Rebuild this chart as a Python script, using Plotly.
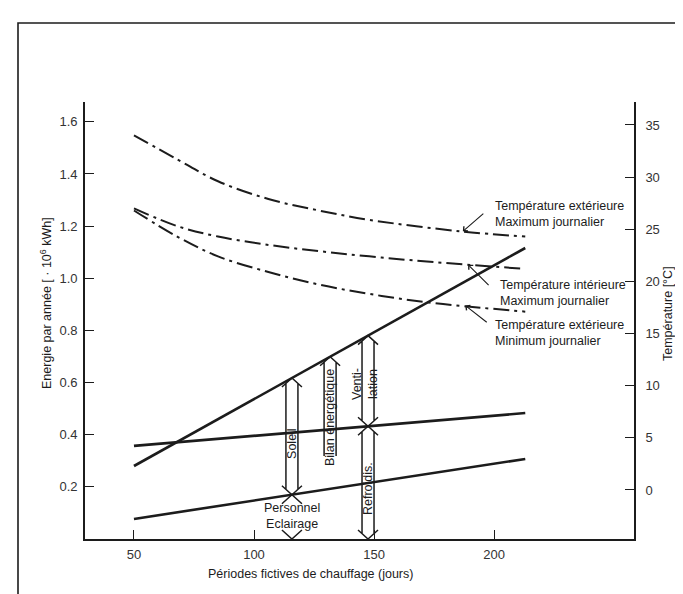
import numpy as np
import plotly.graph_objects as go

# ---------------- data ----------------
line_days = [50, 213]
e_total = [0.28, 1.116]      # upper solid line (energy)
e_middle = [0.357, 0.483]    # middle solid line
e_lower = [0.077, 0.307]     # lower solid line

t_ext_max_days = [50, 68, 85, 106, 127, 148, 186, 213]
t_ext_max = [34.0, 31.7, 29.6, 27.9, 26.8, 25.9, 24.8, 24.3]
t_int_max_days = [50, 68, 85, 106, 127, 148, 172, 213]
t_int_max = [27.0, 25.3, 24.3, 23.5, 22.9, 22.4, 21.9, 21.2]
t_ext_min_days = [50, 68, 85, 106, 127, 148, 172, 213]
t_ext_min = [26.8, 24.3, 22.4, 20.9, 19.7, 18.8, 18.0, 17.1]

x_ticks = [50, 100, 150, 200]
e_ticks = [0.2, 0.4, 0.6, 0.8, 1.0, 1.2, 1.4, 1.6]
t_ticks = [0, 5, 10, 15, 20, 25, 30, 35]

soleil_day = 115.8
bilan_day = 131.7
vent_day = 147.5
bilan_bottom_e = 0.318

X_RANGE = [29.6, 258.3]
E_RANGE = [0, 1.676]
T_RANGE = [-4.70, 37.2]

W, H = 683, 594
ML, MR, MT, MB = 77, 57, 94, 63
PW, PH = W - ML - MR, H - MT - MB
DX = (X_RANGE[1] - X_RANGE[0]) / PW   # days per px
DY = (E_RANGE[1] - E_RANGE[0]) / PH   # energy per px

INK = "#1c1c1c"
FN = "Liberation Sans, Arial, sans-serif"
FT = "Liberation Sans, Arial, sans-serif"
FS = 12.5

fig = go.Figure()

for ys in (e_total, e_middle, e_lower):
    fig.add_trace(go.Scatter(x=line_days, y=ys, mode="lines",
                             line=dict(color=INK, width=2.6),
                             showlegend=False, hoverinfo="skip"))

for xs, ys in ((t_ext_max_days, t_ext_max), (t_int_max_days, t_int_max),
               (t_ext_min_days, t_ext_min)):
    fig.add_trace(go.Scatter(x=xs, y=ys, mode="lines", yaxis="y2",
                             line=dict(color=INK, width=2.0, shape="spline",
                                       smoothing=1.0, dash="16px,5px,3px,5px"),
                             showlegend=False, hoverinfo="skip"))


def interp(day, ys):
    return float(np.interp(day, line_days, ys))


def p(x, y):
    return f"{x:.4f},{y:.5f}"


def head(cx, tip, up=True, half=10, hh=9):
    s = 1 if up else -1
    yb = tip - s * hh * DY
    return (f"M{p(cx - half * DX, yb)} L{p(cx, tip)} L{p(cx + half * DX, yb)} ")


def shaft(cx, ytop, ybot, half=6):
    return (f"M{p(cx - half * DX, ytop)} L{p(cx - half * DX, ybot)} "
            f"M{p(cx + half * DX, ytop)} L{p(cx + half * DX, ybot)} ")


paths = []
# Soleil: upper line -> lower line
yt = interp(soleil_day, e_total)
yb = interp(soleil_day, e_lower)
paths.append(head(soleil_day, yt, True) + head(soleil_day, yb, False)
             + shaft(soleil_day, yt - 5 * DY, yb + 5 * DY))
# Personnel / Eclairage: lower line -> axis
paths.append(head(soleil_day, yb, True) + head(soleil_day, 0.0, False))
# Bilan energetique
yt = interp(bilan_day, e_total)
paths.append(head(bilan_day, yt, True) + shaft(bilan_day, yt - 5 * DY, bilan_bottom_e))
# Ventilation: upper line -> middle line
yt = interp(vent_day, e_total)
ym = interp(vent_day, e_middle)
paths.append(head(vent_day, yt, True) + head(vent_day, ym, False)
             + shaft(vent_day, yt - 5 * DY, ym + 5 * DY))
# Refroidissement: middle line -> axis
paths.append(head(vent_day, ym, True) + head(vent_day, 0.0, False)
             + shaft(vent_day, ym - 5 * DY, 0.0 + 5 * DY))

shapes = [dict(type="path", path=pt, xref="x", yref="y",
               line=dict(color=INK, width=1.5)) for pt in paths]

# figure frame
shapes.append(dict(type="rect", xref="paper", yref="paper",
                   x0=(10 - ML) / PW, x1=(680 - ML) / PW,
                   y0=(H - MB - 589) / PH, y1=(H - MB - 15) / PH,
                   line=dict(color=INK, width=1.6)))

ann = []


def txt(x, y, text, angle=0, size=FS, xref="x", yref="y", xanchor="center",
        yanchor="middle", align="center", font=FN):
    ann.append(dict(x=x, y=y, xref=xref, yref=yref, text=text, showarrow=False,
                    textangle=angle, xanchor=xanchor, yanchor=yanchor, align=align,
                    font=dict(family=font, size=size, color=INK)))


def py_e(py):
    return (H - MB - py) * DY


txt(soleil_day, py_e(435), "Soleil", -90)
txt(bilan_day, py_e(410), "Bilan énergétique", -90)
txt(vent_day - 3 * DX, py_e(376), "Venti-<br>lation", -90)
txt(vent_day, py_e(481), "Refroidis.", -90)
txt(soleil_day, py_e(508), "Personnel<br>Eclairage", 0)

# curve labels
lab_x = 50 + (485 - 126) / 2.4
txt(lab_x, 26.5, "Température extérieure<br>Maximum journalier", 0,
    yref="y2", xanchor="left", align="left")
txt(lab_x + 2, 18.9, "Température intérieure<br>Maximum journalier", 0,
    yref="y2", xanchor="left", align="left")
txt(lab_x, 15.05, "Température extérieure<br>Minimum journalier", 0,
    yref="y2", xanchor="left", align="left")

for tipx, tipy, ax, ay in ((187.0, 24.8, 22, -19), (189.2, 21.6, 22, 22),
                           (188.0, 17.7, 23, 18)):
    ann.append(dict(x=tipx, y=tipy, xref="x", yref="y2", text="", showarrow=True,
                    ax=ax, ay=ay, arrowhead=4, arrowsize=1.1, arrowwidth=1.1,
                    arrowcolor=INK, standoff=0))

# axis titles
txt((38 - ML) / PW, (H - MB - 295) / PH, "Energie par année [ · 10<sup>6</sup> kWh]", -90,
    xref="paper", yref="paper")
txt((660 - ML) / PW, (H - MB - 306) / PH, "Température [°C]", -90,
    xref="paper", yref="paper")
txt((302 - ML) / PW, (H - MB - 566) / PH, "Périodes fictives de chauffage (jours)", 0,
    xref="paper", yref="paper")

axis_common = dict(showgrid=False, zeroline=False, showline=True, linecolor=INK,
                   linewidth=1.6, ticks="inside", ticklen=9, tickcolor=INK,
                   tickwidth=1.2, tickfont=dict(family=FT, size=13, color="#333"))

fig.update_layout(
    width=W, height=H, margin=dict(l=ML, r=MR, t=MT, b=MB),
    paper_bgcolor="white", plot_bgcolor="white", showlegend=False,
    xaxis=dict(range=X_RANGE, tickvals=x_ticks, ticklabelstandoff=3, **axis_common),
    yaxis=dict(range=E_RANGE, tickvals=e_ticks, tickformat=".1f", ticklabelstandoff=3,
               **axis_common),
    yaxis2=dict(range=T_RANGE, tickvals=t_ticks, overlaying="y", side="right",
                ticklabelstandoff=7, **axis_common),
    shapes=shapes, annotations=ann,
)

fig.write_html("out.html")
